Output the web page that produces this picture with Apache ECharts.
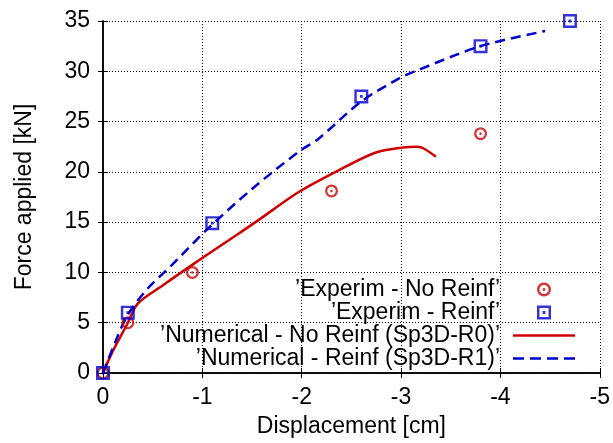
<!DOCTYPE html>
<html>
<head>
<meta charset="utf-8">
<script src="https://cdn.jsdelivr.net/npm/echarts@6/dist/echarts.min.js"></script>
<style>
  html, body { margin: 0; padding: 0; background: #fff; }
  #chart { width: 613px; height: 443px; }
</style>
</head>
<body>
<div id="chart"></div>
<script>
// experimental points [displacement cm, force kN]
var expNoReinf = [[0, 0], [-0.25, 5], [-0.9, 10], [-2.3, 18.1], [-3.8, 23.8]];
var expReinf = [[0, 0], [-0.25, 6], [-1.1, 14.9], [-2.6, 27.5], [-3.8, 32.5], [-4.7, 35]];
// numerical curves
var numNoReinf = [[0, 0], [-0.1, 2.2], [-0.24, 4.8], [-0.35, 6.9], [-0.6, 8.7], [-0.92, 10.9],
    [-1.25, 13.1], [-1.55, 15.1], [-1.97, 18.0], [-2.4, 20.3], [-2.74, 21.9], [-3.0, 22.4],
    [-3.17, 22.5], [-3.25, 22.2], [-3.35, 21.5]];
var numReinf = [[0, 0], [-0.12, 3], [-0.25, 5.8], [-0.45, 8.4], [-0.69, 10.7], [-1.05, 14.3],
    [-1.5, 18.3], [-1.97, 22.0], [-2.17, 23.3], [-2.6, 27.0], [-3.0, 29.4], [-3.14, 30.0],
    [-3.8, 32.5], [-4.45, 34.0]];
var names = ['\u2019Experim - No Reinf\u2019', '\u2019Experim - Reinf\u2019',
    '\u2019Numerical - No Reinf (Sp3D-R0)\u2019', '\u2019Numerical - Reinf (Sp3D-R1)\u2019'];

var red = '#d00000';
var blue = '#0000d0';
var font = 'Liberation Sans, Arial, sans-serif';
var fs = 23;

var ringPath = 'path://M0,-10A10,10 0 1,1 0,10A10,10 0 1,1 0,-10Z' +
    'M0,-6.5A6.5,6.5 0 1,0 0,6.5A6.5,6.5 0 1,0 0,-6.5Z' +
    'M0,-2A2,2 0 1,1 0,2A2,2 0 1,1 0,-2Z';
var boxPath = 'path://M-10,-10H10V10H-10Z M-6.5,-6.5V6.5H6.5V-6.5Z M-2,-2H2V2H-2Z';
// legend samples for the two curves
var solidIcon = 'path://M0,0H62V2.5H0Z';
var dashIcon = 'path://M0,0H11V2.5H0Z M17,0H28V2.5H17Z M34,0H45V2.5H34Z M51,0H62V2.5H51Z';

var chart = echarts.init(document.getElementById('chart'));

var frameAxis = {
    axisLine: { show: true, lineStyle: { color: '#000', width: 1.5 } },
    axisTick: { show: true, inside: true, length: 5, lineStyle: { color: '#000' } },
    axisLabel: { show: false },
    splitLine: { show: false }
};

var option = {
    animation: false,
    textStyle: { fontFamily: font },
    grid: { left: 103, right: 10, top: 21, bottom: 68 },
    legend: {
        data: [
            { name: names[0] },
            { name: names[1] },
            { name: names[2], icon: solidIcon },
            { name: names[3], icon: dashIcon }
        ],
        orient: 'vertical',
        align: 'right',
        right: 33,
        top: 273,
        itemWidth: 62,
        itemHeight: 14,
        itemGap: 0,
        textStyle: { fontSize: fs, lineHeight: 23, color: '#000', fontFamily: font, padding: [0, 8, 0, 0] }
    },
    xAxis: [{
        type: 'value',
        min: -5,
        max: 0,
        interval: 1,
        inverse: true,
        name: 'Displacement [cm]',
        nameLocation: 'middle',
        nameGap: 42,
        nameTextStyle: { fontSize: fs, color: '#000' },
        axisLine: { show: true, onZero: false, lineStyle: { color: '#000', width: 1.5 } },
        axisTick: { show: true, inside: true, length: 5, lineStyle: { color: '#000' } },
        axisLabel: { fontSize: fs, color: '#000', margin: 13 },
        splitLine: { show: true, lineStyle: { color: '#000', type: [1, 2], width: 1 } }
    }, Object.assign({ type: 'value', min: -5, max: 0, interval: 1, inverse: true, position: 'top' }, frameAxis)],
    yAxis: [{
        type: 'value',
        min: 0,
        max: 35,
        interval: 5,
        name: 'Force applied [kN]',
        nameLocation: 'middle',
        nameGap: 67,
        nameTextStyle: { fontSize: fs, color: '#000' },
        axisLine: { show: true, onZero: false, lineStyle: { color: '#000', width: 1.5 } },
        axisTick: { show: true, inside: true, length: 5, lineStyle: { color: '#000' } },
        axisLabel: { fontSize: fs, color: '#000', margin: 13 },
        splitLine: { show: true, lineStyle: { color: '#000', type: [1, 2], width: 1 } }
    }, Object.assign({ type: 'value', min: 0, max: 35, interval: 5, position: 'right' }, frameAxis)],
    series: [{
        name: names[0],
        type: 'scatter',
        data: expNoReinf,
        symbol: ringPath,
        symbolSize: 13,
        itemStyle: { color: red },
        z: 4
    }, {
        name: names[1],
        type: 'scatter',
        data: expReinf,
        symbol: boxPath,
        symbolSize: 14,
        itemStyle: { color: blue },
        z: 5
    }, {
        name: names[2],
        type: 'line',
        data: numNoReinf,
        smooth: 0.3,
        showSymbol: false,
        symbol: 'none',
        lineStyle: { color: red, width: 2.5 },
        itemStyle: { color: red, borderWidth: 0 },
        z: 3
    }, {
        name: names[3],
        type: 'line',
        data: numReinf,
        smooth: 0.3,
        showSymbol: false,
        symbol: 'none',
        lineStyle: { color: blue, width: 2.5, type: [10, 6] },
        itemStyle: { color: blue, borderWidth: 0 },
        z: 3
    }]
};

chart.setOption(option);
</script>
</body>
</html>
